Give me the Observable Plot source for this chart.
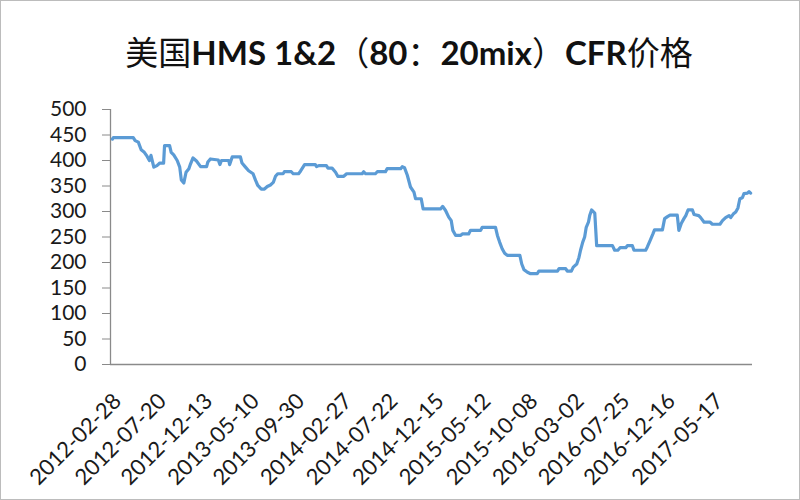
<!DOCTYPE html>
<html>
<head>
<meta charset="utf-8">
<script src="https://cdn.jsdelivr.net/npm/d3@7"></script>
<script src="https://cdn.jsdelivr.net/npm/@observablehq/plot@0.6"></script>
<style>
  html, body { margin: 0; padding: 0; background: #fff; }
  #chart { width: 800px; height: 500px; box-sizing: border-box; border: 1px solid #bcbcbc; background: #fff; overflow: hidden; }
  #title { height: 88px; box-sizing: border-box; padding-top: 31px; padding-left: 18px; text-align: center;
           font-family: Lato, "Noto Sans CJK SC", sans-serif; font-size: 33px; font-weight: bold; color: #111; line-height: 38px; white-space: nowrap; }
  #title .cjk { font-family: "Noto Sans CJK SC", sans-serif; font-weight: normal; }
  #plot svg { display: block; }
</style>
</head>
<body>
<div id="chart">
  <div id="title"><span class="cjk">美国</span>HMS 1&amp;2<span class="cjk">（</span>80<span class="cjk">：</span>20mix<span class="cjk">）</span>CFR<span class="cjk">价格</span></div>
  <div id="plot"></div>
</div>
<script>
const dates = ["2012-02-28","2012-03-02","2012-05-04","2012-05-10","2012-05-20","2012-05-29","2012-06-08","2012-06-17","2012-06-24","2012-06-29",
"2012-07-08","2012-07-18","2012-07-27","2012-08-08","2012-08-11","2012-08-27","2012-09-01","2012-09-09","2012-09-20","2012-09-28",
"2012-10-03","2012-10-11","2012-10-18","2012-10-27","2012-11-01","2012-11-09","2012-11-20","2012-12-03","2012-12-22","2012-12-26",
"2013-01-03","2013-01-28","2013-02-02","2013-02-07","2013-03-02","2013-03-05","2013-03-13","2013-04-08","2013-04-13","2013-04-24",
"2013-05-04","2013-05-18","2013-05-26","2013-06-02","2013-06-13","2013-06-23","2013-07-02","2013-07-12","2013-07-21","2013-07-28",
"2013-08-04","2013-08-21","2013-08-25","2013-09-16","2013-09-22","2013-10-09","2013-10-15","2013-10-28","2013-12-01","2013-12-05",
"2013-12-12","2014-01-05","2014-01-10","2014-01-23","2014-02-03","2014-02-10","2014-03-01","2014-03-10","2014-04-28","2014-05-03",
"2014-05-09","2014-06-09","2014-06-15","2014-07-11","2014-07-16","2014-08-28","2014-09-02","2014-09-09","2014-09-18","2014-09-28",
"2014-10-09","2014-10-14","2014-11-01","2014-11-07","2015-01-01","2015-01-08","2015-01-17","2015-01-27","2015-02-04","2015-02-09",
"2015-02-18","2015-03-05","2015-03-11","2015-03-31","2015-04-06","2015-05-08","2015-05-13","2015-06-24","2015-06-30","2015-07-07",
"2015-07-15","2015-07-23","2015-07-31","2015-09-09","2015-09-15","2015-09-22","2015-10-03","2015-10-13","2015-11-03","2015-11-08",
"2016-01-06","2016-01-11","2016-02-01","2016-02-06","2016-02-19","2016-02-25","2016-03-07","2016-03-14","2016-03-19","2016-03-26",
"2016-04-01","2016-04-06","2016-04-13","2016-04-17","2016-04-23","2016-05-03","2016-05-09","2016-06-28","2016-07-05","2016-07-15",
"2016-07-22","2016-08-09","2016-08-14","2016-08-30","2016-09-04","2016-10-11","2016-10-16","2016-10-25","2016-11-03","2016-11-08",
"2016-12-03","2016-12-10","2016-12-19","2016-12-27","2017-01-19","2017-01-24","2017-02-01","2017-02-09","2017-02-15","2017-02-22",
"2017-03-08","2017-03-13","2017-03-28","2017-04-03","2017-04-14","2017-05-03","2017-05-10","2017-06-03","2017-06-11","2017-06-21",
"2017-07-02","2017-07-07","2017-07-15","2017-07-23","2017-07-30","2017-08-05","2017-08-13","2017-08-18","2017-08-29","2017-09-03",
"2017-09-08"];

const prices = [442,445,445,439,436,421,416,408,400,410,
387,390,395,395,429,429,416,411,400,387,
362,356,377,384,393,405,399,388,388,397,
403,401,392,400,400,392,407,407,395,387,
380,374,361,351,344,344,349,352,357,369,
374,374,378,378,374,374,379,392,392,388,
390,390,385,385,377,369,369,374,374,378,
374,374,378,378,384,384,388,386,371,348,
338,325,325,305,305,310,302,289,282,263,
253,253,256,256,263,263,269,269,253,240,
227,218,214,214,197,186,181,178,178,183,
183,188,188,183,183,191,197,210,224,240,
250,269,279,292,303,297,233,233,224,224,
229,229,233,233,224,224,230,243,256,264,
264,286,290,293,293,263,277,286,292,303,
303,294,292,288,279,279,275,275,282,288,
292,288,295,299,307,325,327,335,336,339,
336];

const xTickLabels = ["2012-02-28","2012-07-20","2012-12-13","2013-05-10","2013-09-30","2014-02-27","2014-07-22",
"2014-12-15","2015-05-12","2015-10-08","2016-03-02","2016-07-25","2016-12-16","2017-05-17"];
const yTicks = [0,50,100,150,200,250,300,350,400,450,500];
const xDomain = ["2012-02-22","2017-09-14"];

const data = dates.map((d, i) => ({date: new Date(d), price: prices[i]}));
const xTicks = xTickLabels.map(d => new Date(d));
const xd = xDomain.map(d => new Date(d));
const fmt = d3.utcFormat("%Y-%m-%d");

const chart = Plot.plot({
  width: 798,
  height: 410,
  marginTop: 20,
  marginBottom: 135,
  marginLeft: 109,
  marginRight: 47,
  style: {fontFamily: "Lato, 'Liberation Sans', sans-serif", fontSize: "21px", color: "#1a1a1a", background: "#fff"},
  x: {type: "utc", domain: xd, axis: null},
  y: {domain: [0, 500]},
  marks: [
    Plot.ruleY([0], {stroke: "#8a8a8a", strokeWidth: 1.3}),
    Plot.ruleX([xd[0]], {y1: 0, y2: 500, stroke: "#8a8a8a", strokeWidth: 1.3}),
    Plot.axisY({ticks: yTicks, tickSize: 8, tickPadding: 16, stroke: "#8a8a8a", fill: "#1a1a1a", label: null, fontSize: 21}),
    Plot.text(xTicks, {x: d => d, frameAnchor: "bottom", text: d => fmt(d), rotate: -45,
      textAnchor: "end", lineAnchor: "top", dx: -1, dy: 27, fill: "#1a1a1a", fontSize: 22}),
    Plot.line(data, {x: "date", y: "price", stroke: "#5B9BD5", strokeWidth: 3.2, strokeLinejoin: "round"})
  ]
});
document.getElementById("plot").appendChild(chart);
</script>
</body>
</html>
